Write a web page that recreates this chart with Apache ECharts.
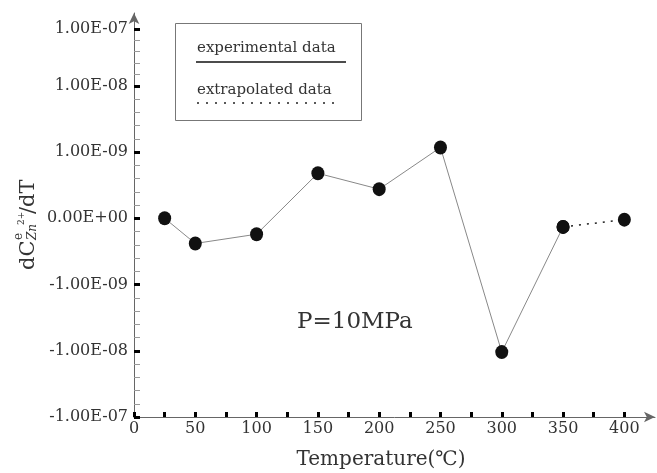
<!DOCTYPE html>
<html>
<head>
<meta charset="utf-8">
<script src="https://cdn.jsdelivr.net/npm/echarts@6/dist/echarts.min.js"></script>
<style>
html, body { margin: 0; padding: 0; background: #fff; }
#myChart { width: 657px; height: 473px; }
</style>
</head>
<body>
<div id="myChart"></div>
<script>
// y axis is drawn on a symmetric log scale: one step per decade
// (the top decade is a bit shorter in the original figure)
var yTickPos = [-3, -2, -1, 0, 1, 2, 2.86];
var yTickLabels = ['-1.00E-07', '-1.00E-08', '-1.00E-09', '0.00E+00', '1.00E-09', '1.00E-08', '1.00E-07'];
var xTicks = [0, 25, 50, 75, 100, 125, 150, 175, 200, 225, 250, 275, 300, 325, 350, 375, 400];
var xLabels = [0, 50, 100, 150, 200, 250, 300, 350, 400];

var expTemp = [25, 50, 100, 150, 200, 250, 300, 350];
var expValue = [0, -0.38, -0.24, 0.68, 0.44, 1.07, -2.02, -0.13];
var extTemp = [350, 400];
var extValue = [-0.13, -0.02];

var font = 'DejaVu Serif';
// four small ticks between neighbouring decades
var minorTicks = [];
for (var i = 0; i < yTickPos.length - 1; i++) {
  var step = (yTickPos[i + 1] - yTickPos[i]) / 5;
  for (var j = 1; j < 5; j++) minorTicks.push(yTickPos[i] + step * j);
}

function pairs (xs, ys) {
  return xs.map(function (x, k) { return [x, ys[k]]; });
}

var myChart = echarts.init(document.getElementById('myChart'));
myChart.setOption({
  animation: false,
  grid: { left: 134, right: 2, top: 13, bottom: 56, outerBoundsMode: 'none' },
  xAxis: {
    type: 'value',
    min: 0,
    max: 425,
    interval: 25,
    axisLine: {
      show: true,
      onZero: false,
      symbol: ['none', 'arrow'],
      symbolSize: [8, 11],
      lineStyle: { color: '#666', width: 1 }
    },
    axisTick: {
      show: true,
      inside: true,
      length: 5,
      customValues: xTicks,
      lineStyle: { color: '#000', width: 3 }
    },
    axisLabel: {
      customValues: xLabels,
      fontFamily: font,
      fontSize: 16,
      color: '#333',
      margin: 4
    },
    splitLine: { show: false }
  },
  yAxis: [{
    type: 'value',
    min: -3,
    max: 3.1,
    interval: 1,
    position: 'left',
    axisLine: {
      show: true,
      onZero: false,
      symbol: ['none', 'arrow'],
      symbolSize: [8, 11],
      lineStyle: { color: '#666', width: 1 }
    },
    axisTick: {
      show: true,
      inside: true,
      length: 6,
      customValues: yTickPos,
      lineStyle: { color: '#000', width: 3 }
    },
    axisLabel: {
      customValues: yTickPos,
      formatter: function (v) {
        var best = 0;
        yTickPos.forEach(function (p, k) {
          if (Math.abs(p - v) < Math.abs(yTickPos[best] - v)) best = k;
        });
        return yTickLabels[best];
      },
      fontFamily: font,
      fontSize: 16,
      color: '#333',
      margin: 6
    },
    splitLine: { show: false }
  }, {
    type: 'value',
    min: -3,
    max: 3.1,
    position: 'left',
    axisLine: { show: false, onZero: false },
    axisTick: {
      show: true,
      inside: true,
      length: 6,
      customValues: minorTicks,
      lineStyle: { color: '#999', width: 1 }
    },
    axisLabel: { show: false },
    splitLine: { show: false }
  }],
  series: [{
    name: 'experimental data',
    type: 'line',
    data: pairs(expTemp, expValue),
    symbol: 'circle',
    symbolSize: [13, 14],
    itemStyle: { color: '#111' },
    lineStyle: { color: '#888', width: 1 },
    z: 3
  }, {
    name: 'extrapolated data',
    type: 'line',
    data: pairs(extTemp, extValue),
    symbol: 'circle',
    symbolSize: [13, 14],
    itemStyle: { color: '#111' },
    lineStyle: { color: '#222', width: 1.5, type: [2, 6] },
    z: 2
  }],
  graphic: [
    // legend box
    { type: 'rect', shape: { x: 175.5, y: 23.5, width: 186, height: 97 },
      style: { fill: 'none', stroke: '#777', lineWidth: 1 } },
    { type: 'text', x: 197, y: 48,
      style: { text: 'experimental data', font: '15px "DejaVu Serif"', fill: '#333', verticalAlign: 'middle' } },
    { type: 'line', shape: { x1: 196, y1: 62, x2: 346, y2: 62 },
      style: { stroke: '#111', lineWidth: 1.5 } },
    { type: 'text', x: 197, y: 90,
      style: { text: 'extrapolated data', font: '15px "DejaVu Serif"', fill: '#333', verticalAlign: 'middle' } },
    { type: 'line', shape: { x1: 197, y1: 103, x2: 340, y2: 103 },
      style: { stroke: '#222', lineWidth: 1.5, lineDash: [2, 7] } },
    // annotation
    { type: 'text', x: 297, y: 322,
      style: { text: 'P=10MPa', font: '23px "DejaVu Serif"', fill: '#333', verticalAlign: 'middle' } },
    // axis titles
    { type: 'text', x: 381, y: 460,
      style: { text: 'Temperature(℃)', font: '20px "DejaVu Serif"', fill: '#333', align: 'center', verticalAlign: 'middle' } },
    { type: 'group', x: 29, y: 270, rotation: Math.PI / 2,
      children: [
        { type: 'text', x: 0, y: 0,
          style: { text: 'dC', font: '21px "DejaVu Serif"', fill: '#333', verticalAlign: 'middle' } },
        { type: 'text', x: 30, y: -10,
          style: { text: 'e', font: '12px "DejaVu Serif"', fill: '#333', verticalAlign: 'middle' } },
        { type: 'text', x: 30, y: 4,
          style: { text: 'Zn', font: 'italic 12px "DejaVu Serif"', fill: '#333', verticalAlign: 'middle' } },
        { type: 'text', x: 45, y: -7,
          style: { text: '2+', font: '9px "DejaVu Serif"', fill: '#333', verticalAlign: 'middle' } },
        { type: 'text', x: 56, y: 0,
          style: { text: '/dT', font: '21px "DejaVu Serif"', fill: '#333', verticalAlign: 'middle' } }
      ] }
  ]
});
</script>
</body>
</html>
